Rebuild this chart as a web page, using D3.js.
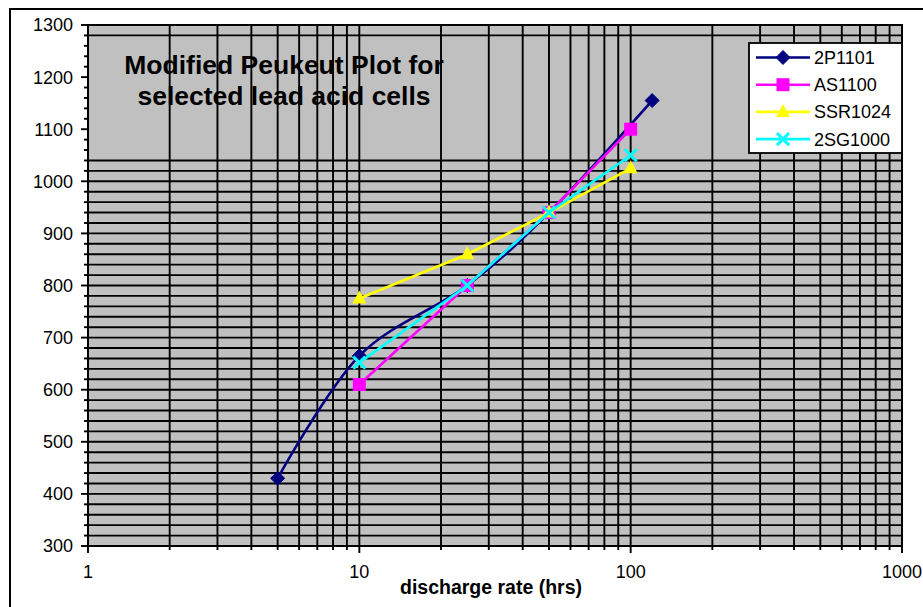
<!DOCTYPE html>
<html>
<head>
<meta charset="utf-8">
<script src="https://cdn.jsdelivr.net/npm/d3@7"></script>
<style>
  body { margin: 0; background: #fff; }
  svg { display: block; }
  text { font-family: "Liberation Sans", Arial, sans-serif; fill: #000; }
</style>
</head>
<body>
<svg id="chart" width="923" height="607"></svg>
<script>
// ---- data ----
const seriesNames = ["2P1101", "AS1100", "SSR1024", "2SG1000"];
const seriesColors = ["#000080", "#FF00FF", "#FFFF00", "#00FFFF"];
const seriesMarkers = ["diamond", "square", "triangle", "cross"];
const x2P1101 = [5, 10, 25, 50, 120];
const y2P1101 = [430, 665, 800, 940, 1155];
const xAS1100 = [10, 25, 50, 100];
const yAS1100 = [610, 800, 940, 1100];
const xSSR1024 = [10, 25, 50, 100];
const ySSR1024 = [775, 860, 940, 1025];
const x2SG1000 = [10, 25, 50, 100];
const y2SG1000 = [652, 800, 940, 1050];
const smoothed = [true, false, false, false];

const xTickLabels = [1, 10, 100, 1000];
const yTickLabels = [300, 400, 500, 600, 700, 800, 900, 1000, 1100, 1200, 1300];
const yGridValues = [300,320,340,360,380,400,420,440,460,480,500,520,540,560,580,600,620,640,660,680,700,720,740,760,780,800,820,840,860,880,900,920,940,960,980,1000,1020,1040,1280];
const yMinorTicks = d3.range(300, 1301, 20);

const chartTitle = ["Modified Peukeut Plot for", "selected lead acid cells"];
const xAxisTitle = "discharge rate (hrs)";

// ---- build ----
const xs = [x2P1101, xAS1100, xSSR1024, x2SG1000];
const ys = [y2P1101, yAS1100, ySSR1024, y2SG1000];
const series = seriesNames.map((n, i) => ({
  name: n, color: seriesColors[i], marker: seriesMarkers[i], smooth: smoothed[i],
  points: xs[i].map((v, j) => ({x: v, y: ys[i][j]}))
}));

const svg = d3.select("#chart");
const pL = 88, pR = 902, pT = 25, pB = 546;
const x = d3.scaleLog().domain([1, 1000]).range([pL, pR]);
const y = d3.scaleLinear().domain([300, 1300]).range([pB, pT]);

// outer frame
svg.append("rect").attr("x", 10).attr("y", 9).attr("width", 1000).attr("height", 1000)
  .attr("fill", "#fff").attr("stroke", "#000").attr("stroke-width", 2);

// plot area
svg.append("rect").attr("x", pL).attr("y", pT).attr("width", pR - pL).attr("height", pB - pT)
  .attr("fill", "#C0C0C0");

const xGrid = [];
[1, 10, 100].forEach(d => { for (let k = 1; k < 10; k++) xGrid.push(d * k); });
xGrid.push(1000);

const grid = svg.append("g").attr("stroke", "#000").attr("stroke-width", 1.9);
grid.selectAll("line.v").data(xGrid).join("line").attr("class", "v")
  .attr("x1", d => x(d)).attr("x2", d => x(d)).attr("y1", pT).attr("y2", pB);
grid.selectAll("line.h").data(yGridValues).join("line").attr("class", "h")
  .attr("x1", pL).attr("x2", pR).attr("y1", d => y(d)).attr("y2", d => y(d));

// plot border
svg.append("rect").attr("x", pL).attr("y", pT).attr("width", pR - pL).attr("height", pB - pT)
  .attr("fill", "none").attr("stroke", "#000").attr("stroke-width", 2);

// ticks
const ticks = svg.append("g").attr("stroke", "#000").attr("stroke-width", 1.9);
ticks.selectAll("line.yt").data(yMinorTicks).join("line").attr("class", "yt")
  .attr("x1", d => pL - (d % 100 === 0 ? 7 : 4)).attr("x2", pL)
  .attr("y1", d => y(d)).attr("y2", d => y(d));
ticks.selectAll("line.xt").data(xGrid).join("line").attr("class", "xt")
  .attr("y1", pB).attr("y2", d => pB + (xTickLabels.includes(d) ? 7 : 4))
  .attr("x1", d => x(d)).attr("x2", d => x(d));

// tick labels
svg.append("g").selectAll("text").data(yTickLabels).join("text")
  .attr("x", 73).attr("y", d => y(d)).attr("dy", "0.36em")
  .attr("text-anchor", "end").attr("font-size", 18).text(d => d);
svg.append("g").selectAll("text").data(xTickLabels).join("text")
  .attr("x", d => x(d)).attr("y", 578)
  .attr("text-anchor", "middle").attr("font-size", 18).text(d => d);

// axis title
svg.append("text").attr("x", 491).attr("y", 594).attr("text-anchor", "middle")
  .attr("font-size", 19.5).attr("font-weight", "bold").text(xAxisTitle);

// chart title
svg.append("g").selectAll("text").data(chartTitle).join("text")
  .attr("x", 284).attr("y", (d, i) => 74 + i * 31).attr("text-anchor", "middle")
  .attr("font-size", 26.5).attr("font-weight", "bold").text(d => d);

// markers
function drawMarker(g, type, color, cx, cy) {
  if (type === "diamond") {
    g.append("path").attr("d", `M${cx},${cy - 7}L${cx + 7},${cy}L${cx},${cy + 7}L${cx - 7},${cy}Z`)
      .attr("fill", color).attr("stroke", color).attr("stroke-width", 1);
  } else if (type === "square") {
    g.append("rect").attr("x", cx - 6.5).attr("y", cy - 6.5).attr("width", 13).attr("height", 13)
      .attr("fill", color);
  } else if (type === "triangle") {
    g.append("path").attr("d", `M${cx},${cy - 8}L${cx + 7},${cy + 5}L${cx - 7},${cy + 5}Z`)
      .attr("fill", color);
  } else if (type === "cross") {
    g.append("path").attr("d", `M${cx - 6},${cy - 6}L${cx + 6},${cy + 6}M${cx - 6},${cy + 6}L${cx + 6},${cy - 6}`)
      .attr("stroke", color).attr("stroke-width", 3).attr("fill", "none");
  }
}

const dataG = svg.append("g");
series.forEach(s => {
  const line = d3.line().x(d => x(d.x)).y(d => y(d.y))
    .curve(s.smooth ? d3.curveCardinal.tension(0) : d3.curveLinear);
  const g = dataG.append("g");
  g.append("path").datum(s.points).attr("d", line)
    .attr("fill", "none").attr("stroke", s.color).attr("stroke-width", 2.6);
  s.points.forEach(p => drawMarker(g, s.marker, s.color, x(p.x), y(p.y)));
});

// legend
const lg = svg.append("g");
lg.append("rect").attr("x", 749).attr("y", 43).attr("width", 153).attr("height", 110)
  .attr("fill", "#fff").attr("stroke", "#000").attr("stroke-width", 1.8);
series.forEach((s, i) => {
  const cy = 57.5 + i * 27.2;
  const g = lg.append("g");
  g.append("line").attr("x1", 756).attr("x2", 810).attr("y1", cy).attr("y2", cy)
    .attr("stroke", s.color).attr("stroke-width", 2.6);
  drawMarker(g, s.marker, s.color, 783, cy);
  g.append("text").attr("x", 814).attr("y", cy).attr("dy", "0.36em")
    .attr("font-size", 18).text(s.name);
});
</script>
</body>
</html>
